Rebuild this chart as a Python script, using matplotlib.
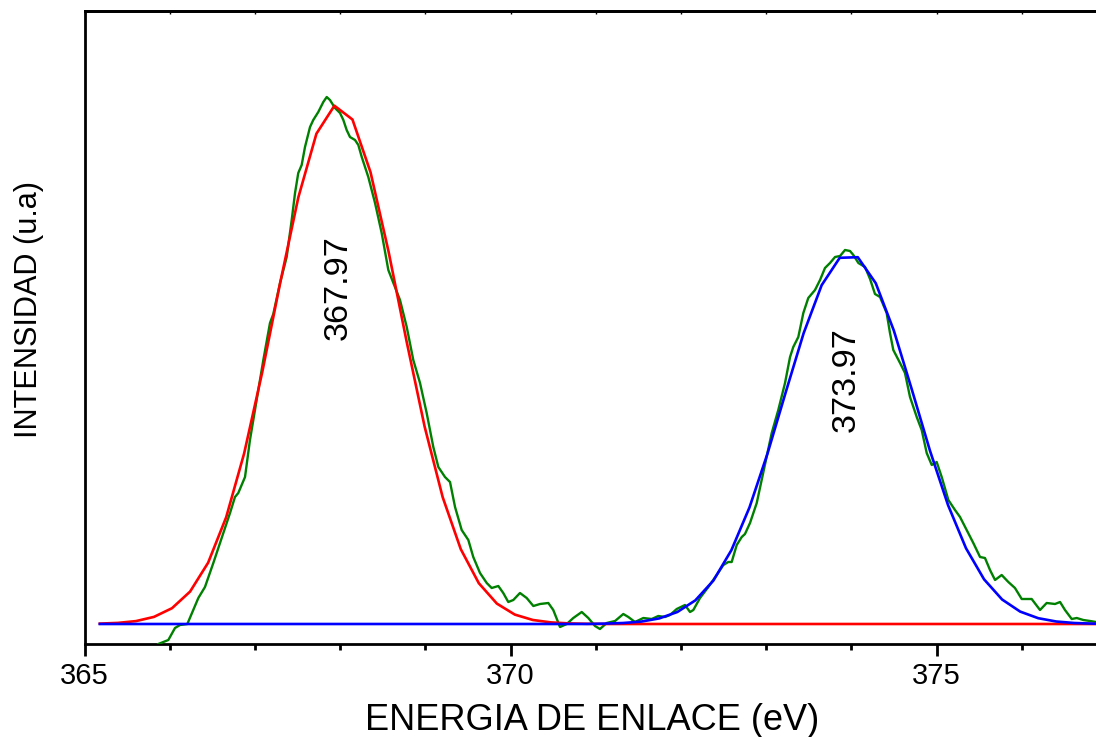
import matplotlib
matplotlib.use("Agg")
import matplotlib.pyplot as plt
from matplotlib import font_manager as fm
from matplotlib.ticker import MultipleLocator

# ---------------- data ----------------
# measured spectrum (binding energy eV, intensity a.u.)
energy_meas = [365.866, 365.984, 366.062, 366.121, 366.207, 366.277, 366.336, 366.414, 366.512,
               366.629, 366.708, 366.766, 366.805, 366.884, 366.942, 367.021, 367.099, 367.177,
               367.216, 367.295, 367.373, 367.432, 367.471, 367.509, 367.549, 367.588, 367.647,
               367.685, 367.744, 367.803, 367.843, 367.881, 367.940, 367.999, 368.038, 368.077,
               368.116, 368.175, 368.214, 368.254, 368.331, 368.410, 368.488, 368.566, 368.644,
               368.703, 368.782, 368.859, 368.938, 369.016, 369.094, 369.153, 369.231, 369.290,
               369.349, 369.427, 369.505, 369.563, 369.642, 369.721, 369.779, 369.857, 369.915,
               369.974, 370.033, 370.111, 370.190, 370.268, 370.346, 370.444, 370.502, 370.581,
               370.660, 370.737, 370.836, 370.913, 370.992, 371.050, 371.129, 371.227, 371.324,
               371.383, 371.461, 371.559, 371.657, 371.735, 371.813, 371.872, 371.951, 372.048,
               372.107, 372.146, 372.224, 372.322, 372.420, 372.498, 372.556, 372.596, 372.655,
               372.714, 372.752, 372.811, 372.890, 372.948, 373.007, 373.066, 373.143, 373.222,
               373.281, 373.319, 373.378, 373.437, 373.495, 373.574, 373.633, 373.691, 373.750,
               373.809, 373.868, 373.926, 373.985, 374.024, 374.083, 374.161, 374.220, 374.278,
               374.337, 374.415, 374.454, 374.493, 374.572, 374.630, 374.689, 374.768, 374.826,
               374.885, 374.944, 375.002, 375.061, 375.139, 375.217, 375.276, 375.354, 375.432,
               375.511, 375.569, 375.628, 375.687, 375.765, 375.843, 375.921, 376.000, 376.117,
               376.215, 376.293, 376.391, 376.450, 376.508, 376.587, 376.646, 376.723, 376.802,
               376.872, 377.000]
intensity_meas = [-20, -16, -4, -1, 0, 14, 26, 37, 61,
                  91, 111, 127, 131, 147, 184, 224, 264, 301,
                  310, 341, 367, 404, 431, 451, 459, 477, 497,
                  504, 512, 522, 527, 524, 516, 511, 504, 494,
                  487, 484, 479, 467, 447, 421, 391, 354, 337,
                  324, 297, 264, 241, 211, 177, 157, 147, 142,
                  117, 94, 84, 67, 51, 41, 36, 38, 31,
                  22, 24, 31, 26, 18, 20, 21, 14, -3,
                  0, 6, 12, 6, -2, -5, 1, 3, 10,
                  7, 2, 6, 5, 8, 7, 9, 15, 19,
                  12, 14, 26, 37, 49, 59, 62, 62, 79,
                  87, 90, 101, 121, 144, 167, 191, 214, 241,
                  267, 277, 287, 311, 326, 334, 344, 356, 361,
                  367, 368, 374, 373, 369, 361, 357, 345, 330,
                  327, 311, 291, 274, 261, 251, 227, 207, 194,
                  171, 159, 162, 147, 124, 114, 107, 94, 81,
                  67, 66, 54, 44, 49, 42, 36, 25, 25,
                  14, 21, 20, 22, 14, 5, 6, 4, 3,
                  2, 2]

# fitted components (sampled energies)
energy_fit = [365.180, 365.392, 365.604, 365.815, 366.027, 366.239, 366.451, 366.663, 366.874,
              367.086, 367.298, 367.510, 367.722, 367.933, 368.145, 368.357, 368.569, 368.781,
              368.992, 369.204, 369.416, 369.628, 369.840, 370.051, 370.263, 370.475, 370.687,
              370.899, 371.110, 371.322, 371.534, 371.746, 371.958, 372.169, 372.381, 372.593,
              372.805, 373.017, 373.228, 373.440, 373.652, 373.864, 374.076, 374.287, 374.499,
              374.711, 374.923, 375.135, 375.346, 375.558, 375.770, 375.982, 376.194, 376.405,
              376.617, 376.829, 377.041]
fit_peak1 = [0.4, 1.1, 2.9, 7.1, 15.8, 32.4, 61.3, 106.8, 170.7,
             251.8, 341.7, 426.7, 490.3, 518.3, 504.5, 451.8, 372.3, 282.4,
             197.4, 126.8, 74.9, 40.8, 20.4, 9.4, 4.0, 1.6, 0.6,
             0.2, 0, 0, 0, 0, 0, 0, 0, 0,
             0, 0, 0, 0, 0, 0, 0, 0, 0,
             0, 0, 0, 0, 0, 0, 0, 0, 0,
             0, 0, 0]
fit_peak2 = [0, 0, 0, 0, 0, 0, 0, 0, 0,
             0, 0, 0, 0, 0, 0, 0, 0, 0,
             0, 0, 0, 0, 0, 0, 0, 0, 0,
             0, 0.4, 1.0, 2.4, 5.6, 12.0, 23.6, 43.4, 73.9,
             116.6, 170.6, 231.1, 290.7, 338.8, 366.2, 366.8, 340.8, 293.5,
             234.3, 173.4, 119.0, 75.8, 44.7, 24.5, 12.4, 5.8, 2.5,
             1.0, 0.4, 0.1]

peak_labels = ["367.97", "373.97"]
peak_label_x = [367.975, 373.937]
peak_label_y = [336, 244]

x_label = "ENERGIA DE ENLACE (eV)"
y_label = "INTENSIDAD (u.a)"

# ---------------- fonts ----------------
def has_font(name):
    try:
        fm.findfont(fm.FontProperties(family=name), fallback_to_default=False)
        return True
    except Exception:
        return False

base_font = "Liberation Sans" if has_font("Liberation Sans") else "DejaVu Sans"
if has_font("Liberation Sans Narrow"):
    narrow_font, narrow_scale = "Liberation Sans Narrow", 1.0
else:
    narrow_font, narrow_scale = base_font, 0.85

plt.rcParams['font.family'] = [base_font, 'DejaVu Sans']

# ---------------- figure ----------------
fig = plt.figure(figsize=(10.96, 7.37), dpi=100)
ax = fig.add_axes([84.5 / 1096, 1 - 644 / 737, 1 - 84.5 / 1096, (644 - 11) / 737])

ax.plot(energy_meas, intensity_meas, color="#008000", lw=1.7, zorder=3)
ax.plot(energy_fit, fit_peak1, color="#ff0000", lw=1.9, zorder=4)
ax.plot(energy_fit, fit_peak2, color="#0000ff", lw=1.9, zorder=5)

for lab, lx, ly in zip(peak_labels, peak_label_x, peak_label_y):
    ax.text(lx, ly, lab, rotation=90, ha="center", va="center",
            fontsize=29 * narrow_scale, family=narrow_font, color="black", zorder=6)

ax.set_xlim(365, 376.872)
ax.set_ylim(-20, 613)

ax.xaxis.set_major_locator(MultipleLocator(5))
ax.xaxis.set_minor_locator(MultipleLocator(1))
ax.set_yticks([])
ax.tick_params(axis="x", which="major", direction="out", length=8.6, width=2.0,
               labelsize=21, pad=4)
ax.tick_params(axis="x", which="minor", direction="out", length=4.3, width=2.0)

for side in ["left", "bottom", "top"]:
    ax.spines[side].set_linewidth(2.0)
ax.spines["right"].set_visible(False)

sec = ax.secondary_xaxis("top")
sec.xaxis.set_major_locator(MultipleLocator(1))
sec.tick_params(axis="x", direction="in", length=2, width=1.0, labeltop=False)
sec.spines["top"].set_linewidth(2.0)

fig.text(29 / 1096, 1 - 310 / 737, y_label, rotation=90, ha="center", va="center",
         fontsize=26 * narrow_scale, family=narrow_font)
fig.text(592 / 1096, 1 - 721 / 737, x_label, ha="center", va="center", fontsize=26)

fig.savefig("out.png", dpi=100)
